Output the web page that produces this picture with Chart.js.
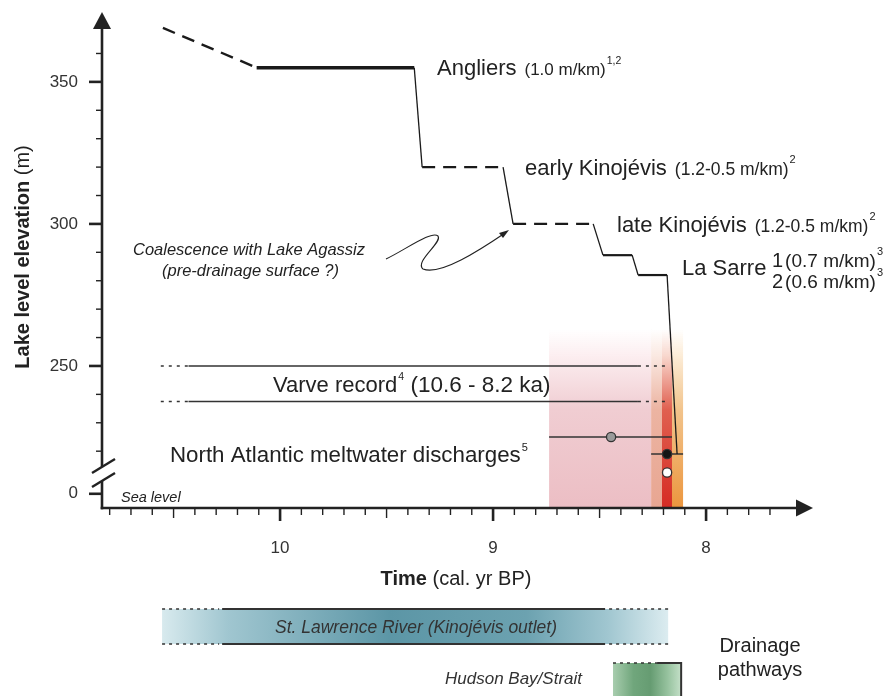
<!DOCTYPE html>
<html>
<head>
<meta charset="utf-8">
<script src="https://cdn.jsdelivr.net/npm/chart.js@4.4.1/dist/chart.umd.min.js"></script>
<style>
body { margin: 0; background: #fff; }
#wrap { width: 891px; height: 696px; }
</style>
</head>
<body>
<div id="wrap"><canvas id="myChart" width="891" height="696"></canvas></div>
<script>
// lake level history (time in ka cal BP, elevation in m; below the axis break values are drawing units)
const lakeTime = [10.55, 10.11, 9.37, 9.333, 8.953, 8.906, 8.53, 8.484, 8.347, 8.319, 8.183, 8.136];
const lakeLevel = [369, 355, 355, 320, 320, 300, 300, 289, 289, 282, 282, 219];
const lakeSegStyle = ['dash', 'thick', 'drop', 'dash', 'drop', 'dash', 'drop', 'flat', 'drop', 'flat', 'drop'];

// varve record: dotted start, solid start, solid end, dotted end
const varveTime = [10.56, 10.43, 8.32, 8.19];
const varveLevels = [250, 237.5];

// North Atlantic meltwater discharges
const meltTime = [8.446, 8.183, 8.183];
const meltLevel = [225, 219, 212.5];
const meltOld = [8.737, 8.258];
const meltYoung = [8.16, 8.108];

// shaded meltwater intervals
const bandOld = [8.737, 8.258, 8.207, 8.16];
const bandYoung = [8.258, 8.207, 8.16, 8.108];
const bandTopLevel = 263;

// drainage pathways
const stLawrence = [10.554, 10.272, 8.474, 8.178];
const hudson = [8.437, 8.23, 8.117];

// axis ticks
const xMajor = [10, 9, 8];
const xHalf = [10.5, 9.5, 8.5];
const xMinor = [10.8, 10.7, 10.6, 10.4, 10.3, 10.2, 10.1, 9.9, 9.8, 9.7, 9.6, 9.4, 9.3, 9.2, 9.1,
    8.9, 8.8, 8.7, 8.6, 8.4, 8.3, 8.2, 8.1, 7.9, 7.8, 7.7];
const yMajor = [205, 250, 300, 350];
const yMajorLabels = ['0', '250', '300', '350'];
const yMinor = [220, 230, 240, 260, 270, 280, 290, 310, 320, 330, 340, 360];
const yBreakAt = 212;

const FONT = '"Liberation Sans", Arial, Helvetica, sans-serif';
const INK = '#222';

function line(ctx, x1, y1, x2, y2) {
    ctx.beginPath();
    ctx.moveTo(x1, y1);
    ctx.lineTo(x2, y2);
    ctx.stroke();
}

function text(ctx, str, x, y, size, style, align) {
    ctx.font = (style || '') + ' ' + size + 'px ' + FONT;
    ctx.textAlign = align || 'left';
    ctx.fillText(str, x, y);
    return x + ctx.measureText(str).width;
}

// pieces: [string, size, gapBefore, baselineShift]
function runs(ctx, x, y, pieces) {
    pieces.forEach(p => {
        x = text(ctx, p[0], x + (p[2] || 0), y + (p[3] || 0), p[1]);
    });
}

const bandsPlugin = {
    id: 'bands',
    beforeDatasetsDraw(chart) {
        const { ctx, chartArea: a, scales: { x, y } } = chart;
        const top = y.getPixelForValue(bandTopLevel);
        const cols = [
            [[252, 238, 240], [240, 205, 210], [236, 190, 196]],
            [[250, 232, 225], [236, 180, 162], [232, 166, 146]],
            [[248, 215, 205], [224, 96, 80], [214, 44, 36]],
            [[252, 236, 215], [242, 196, 140], [236, 150, 62]]
        ];
        ctx.save();
        bandOld.forEach((t, i) => {
            const x1 = x.getPixelForValue(t);
            const x2 = x.getPixelForValue(bandYoung[i]);
            const g = ctx.createLinearGradient(0, top, 0, a.bottom);
            const c = cols[i];
            g.addColorStop(0, 'rgba(' + c[0] + ',0)');
            g.addColorStop(0.15, 'rgba(' + c[0] + ',1)');
            g.addColorStop(0.45, 'rgb(' + c[1] + ')');
            g.addColorStop(1, 'rgb(' + c[2] + ')');
            ctx.fillStyle = g;
            ctx.fillRect(x1, top, x2 - x1, a.bottom - top);
        });
        ctx.restore();
    }
};

const axesPlugin = {
    id: 'axes',
    afterDatasetsDraw(chart) {
        const { ctx, chartArea: a, scales: { x, y } } = chart;
        ctx.save();
        ctx.strokeStyle = INK;
        ctx.fillStyle = INK;
        ctx.lineCap = 'butt';

        // x axis + arrow
        ctx.lineWidth = 2.6;
        line(ctx, a.left - 1.3, a.bottom, a.right - 14, a.bottom);
        ctx.beginPath();
        ctx.moveTo(a.right, a.bottom);
        ctx.lineTo(a.right - 17, a.bottom - 8.5);
        ctx.lineTo(a.right - 17, a.bottom + 8.5);
        ctx.closePath();
        ctx.fill();

        // y axis with break + arrow
        const yb = y.getPixelForValue(yBreakAt);
        line(ctx, a.left, a.bottom + 1.3, a.left, yb + 7);
        line(ctx, a.left, yb - 7, a.left, a.top + 14);
        ctx.beginPath();
        ctx.moveTo(a.left, a.top);
        ctx.lineTo(a.left - 9, a.top + 17);
        ctx.lineTo(a.left + 9, a.top + 17);
        ctx.closePath();
        ctx.fill();
        ctx.lineWidth = 2.4;
        line(ctx, a.left - 10, yb - 1, a.left + 13, yb - 15);
        line(ctx, a.left - 10, yb + 13, a.left + 13, yb - 1);

        // ticks
        ctx.lineWidth = 1.4;
        xMinor.forEach(v => { const p = x.getPixelForValue(v); line(ctx, p, a.bottom, p, a.bottom + 7); });
        xHalf.forEach(v => { const p = x.getPixelForValue(v); line(ctx, p, a.bottom, p, a.bottom + 10); });
        yMinor.forEach(v => { const p = y.getPixelForValue(v); line(ctx, a.left, p, a.left - 6, p); });
        ctx.lineWidth = 2.6;
        xMajor.forEach(v => { const p = x.getPixelForValue(v); line(ctx, p, a.bottom, p, a.bottom + 13); });
        yMajor.forEach(v => { const p = y.getPixelForValue(v); line(ctx, a.left, p, a.left - 13, p); });
        ctx.restore();
    }
};

const labelsPlugin = {
    id: 'labels',
    afterDraw(chart) {
        const { ctx, scales: { x } } = chart;
        ctx.save();
        ctx.fillStyle = INK;
        ctx.textBaseline = 'alphabetic';

        // axis titles
        ctx.save();
        ctx.translate(29, 257);
        ctx.rotate(-Math.PI / 2);
        ctx.font = 'bold 20px ' + FONT;
        const w1 = ctx.measureText('Lake level elevation').width;
        ctx.font = '20px ' + FONT;
        const w2 = ctx.measureText(' (m)').width;
        text(ctx, 'Lake level elevation', -(w1 + w2) / 2, 0, 20, 'bold');
        text(ctx, ' (m)', -(w1 + w2) / 2 + w1, 0, 20);
        ctx.restore();

        ctx.font = 'bold 20px ' + FONT;
        const t1 = ctx.measureText('Time').width;
        ctx.font = '20px ' + FONT;
        const t2 = ctx.measureText(' (cal. yr BP)').width;
        const tx = 456 - (t1 + t2) / 2;
        text(ctx, 'Time', tx, 585, 20, 'bold');
        text(ctx, ' (cal. yr BP)', tx + t1, 585, 20);

        // lake stage labels
        runs(ctx, 437, 75, [['Angliers', 22], ['(1.0 m/km)', 17, 8], ['1,2', 10.5, 1, -11]]);
        runs(ctx, 525, 175, [['early Kinojévis', 22], ['(1.2-0.5 m/km)', 17.5, 8], ['2', 11, 1, -12]]);
        runs(ctx, 617, 232, [['late Kinojévis', 22], ['(1.2-0.5 m/km)', 17.5, 8], ['2', 11, 1, -12]]);
        text(ctx, 'La Sarre', 682, 275, 22);
        runs(ctx, 772, 267, [['1', 20], ['(0.7 m/km)', 19, 2], ['3', 11, 1, -12]]);
        runs(ctx, 772, 288, [['2', 20], ['(0.6 m/km)', 19, 2], ['3', 11, 1, -12]]);

        text(ctx, 'Coalescence with Lake Agassiz', 133, 255, 16.5, 'italic');
        text(ctx, '(pre-drainage surface ?)', 162, 276, 16.5, 'italic');

        runs(ctx, 273, 392, [['Varve record', 22], ['4', 10.5, 1, -12], [' (10.6 - 8.2 ka)', 22.5, 0]]);
        runs(ctx, 170, 462, [['North Atlantic meltwater discharges', 22.3], ['5', 11, 1, -11]]);
        text(ctx, 'Sea level', 121, 502, 14.5, 'italic');

        // squiggle arrow to the pre-drainage surface
        ctx.strokeStyle = INK;
        ctx.lineWidth = 1.1;
        ctx.beginPath();
        ctx.moveTo(386, 259);
        ctx.bezierCurveTo(405, 250, 432, 230, 438, 236);
        ctx.bezierCurveTo(443, 242, 414, 262, 423, 269);
        ctx.bezierCurveTo(440, 276, 480, 250, 505, 233);
        ctx.stroke();
        ctx.beginPath();
        ctx.moveTo(509, 230);
        ctx.lineTo(499, 233);
        ctx.lineTo(503, 238);
        ctx.closePath();
        ctx.fill();

        // drainage pathways
        const s0 = x.getPixelForValue(stLawrence[0]);
        const s1 = x.getPixelForValue(stLawrence[1]);
        const s2 = x.getPixelForValue(stLawrence[2]);
        const s3 = x.getPixelForValue(stLawrence[3]);
        const g = ctx.createLinearGradient(s0, 0, s3, 0);
        g.addColorStop(0, 'rgb(216,234,238)');
        g.addColorStop(0.13, 'rgb(160,198,208)');
        g.addColorStop(0.45, 'rgb(92,150,166)');
        g.addColorStop(0.72, 'rgb(108,162,176)');
        g.addColorStop(0.88, 'rgb(160,198,208)');
        g.addColorStop(1, 'rgb(220,236,240)');
        ctx.fillStyle = g;
        ctx.fillRect(s0, 609, s3 - s0, 35);
        ctx.strokeStyle = '#333';
        [609, 644].forEach(py => {
            ctx.lineWidth = 2;
            ctx.setLineDash([]);
            line(ctx, s1, py, s2, py);
            ctx.lineWidth = 1.6;
            ctx.setLineDash([3, 4]);
            line(ctx, s0, py, s1 - 3, py);
            line(ctx, s2 + 4, py, s3, py);
        });
        ctx.setLineDash([]);
        ctx.fillStyle = '#333';
        text(ctx, 'St. Lawrence River (Kinojévis outlet)', 416, 633, 17.5, 'italic', 'center');

        const h0 = x.getPixelForValue(hudson[0]);
        const h1 = x.getPixelForValue(hudson[1]);
        const h2 = x.getPixelForValue(hudson[2]);
        const gh = ctx.createLinearGradient(h0, 0, h2, 0);
        gh.addColorStop(0, 'rgb(168,205,174)');
        gh.addColorStop(0.3, 'rgb(112,166,124)');
        gh.addColorStop(0.55, 'rgb(102,156,114)');
        gh.addColorStop(0.8, 'rgb(150,194,158)');
        gh.addColorStop(1, 'rgb(196,224,200)');
        ctx.fillStyle = gh;
        ctx.fillRect(h0, 663, h2 - h0, 40);
        ctx.lineWidth = 1.6;
        ctx.setLineDash([3, 4]);
        line(ctx, h0, 663, h1, 663);
        ctx.setLineDash([]);
        ctx.lineWidth = 2;
        line(ctx, h1, 663, h2, 663);
        line(ctx, h2, 662, h2, 700);
        ctx.fillStyle = '#333';
        text(ctx, 'Hudson Bay/Strait', 582, 684, 17, 'italic', 'right');
        ctx.fillStyle = INK;
        text(ctx, 'Drainage', 760, 652, 20, '', 'center');
        text(ctx, 'pathways', 760, 676, 20, '', 'center');
        ctx.restore();
    }
};

const lakeData = lakeTime.map((t, i) => ({ x: t, y: lakeLevel[i] }));
const segWidth = { dash: 2.4, thick: 3.4, drop: 1.3, flat: 2.2 };

const varveSets = varveLevels.map(lv => ({
    data: varveTime.map(t => ({ x: t, y: lv })),
    showLine: true,
    pointRadius: 0,
    borderColor: '#333',
    borderWidth: 1.6,
    segment: {
        borderDash: c => (c.p0DataIndex === 1 ? [] : [3, 5])
    }
}));

const errorSets = meltOld.map((t, i) => ({
    data: [{ x: t, y: meltLevel[i] }, { x: meltYoung[i], y: meltLevel[i] }],
    showLine: true,
    pointRadius: 0,
    borderColor: '#333',
    borderWidth: 1.5
}));

function noPadding(s) {
    s.paddingTop = 0;
    s.paddingBottom = 0;
    s.paddingLeft = 0;
    s.paddingRight = 0;
}

const ctx = document.getElementById('myChart').getContext('2d');
new Chart(ctx, {
    type: 'scatter',
    data: {
        datasets: [
            {
                data: meltTime.map((t, i) => ({ x: t, y: meltLevel[i] })),
                pointRadius: 4.6,
                pointBorderWidth: 1.3,
                pointBorderColor: '#333',
                pointBackgroundColor: ['#9a9a9a', '#151515', '#ffffff']
            },
            {
                data: lakeData,
                showLine: true,
                pointRadius: 0,
                borderColor: '#1a1a1a',
                borderWidth: 2,
                borderJoinStyle: 'miter',
                segment: {
                    borderWidth: c => segWidth[lakeSegStyle[c.p0DataIndex]],
                    borderDash: c => (lakeSegStyle[c.p0DataIndex] === 'dash' ? [13, 8] : [])
                }
            },
            ...errorSets,
            ...varveSets
        ]
    },
    options: {
        responsive: false,
        animation: false,
        events: [],
        layout: { padding: { top: 12, right: 78, left: 0, bottom: 0 } },
        plugins: {
            legend: { display: false },
            tooltip: { enabled: false }
        },
        scales: {
            x: {
                type: 'linear',
                reverse: true,
                min: 7.498,
                max: 10.836,
                afterBuildTicks: s => { s.ticks = xMajor.map(v => ({ value: v })); },
                afterFit: s => { s.height = 188; noPadding(s); },
                grid: { display: false, drawTicks: false },
                border: { display: false },
                ticks: {
                    padding: 30,
                    color: '#333',
                    font: { family: FONT, size: 17 },
                    callback: v => String(v)
                }
            },
            y: {
                type: 'linear',
                min: 200,
                max: 374.6,
                afterBuildTicks: s => { s.ticks = yMajor.map(v => ({ value: v })); },
                afterFit: s => { s.width = 102; noPadding(s); },
                grid: { display: false, drawTicks: false },
                border: { display: false },
                ticks: {
                    padding: 24,
                    color: '#333',
                    font: { family: FONT, size: 17 },
                    callback: v => yMajorLabels[yMajor.indexOf(v)]
                }
            }
        }
    },
    plugins: [bandsPlugin, axesPlugin, labelsPlugin]
});
</script>
</body>
</html>
